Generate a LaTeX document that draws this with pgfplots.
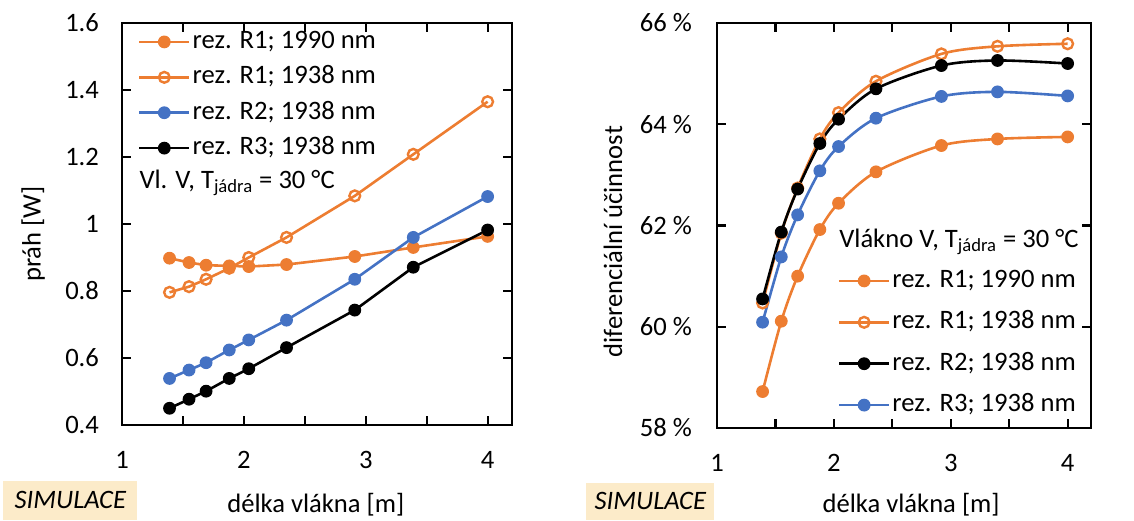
\documentclass[border=0pt]{standalone}
\usepackage{fontspec}
\setmainfont{Carlito}
\usepackage{pgfplots}
\pgfplotsset{compat=1.18}
\definecolor{xlorange}{HTML}{ED7D31}
\definecolor{xlblue}{HTML}{4472C4}
\definecolor{simbg}{HTML}{FCEBC9}
\newcommand{\fs}{\fontsize{13.3}{16}\selectfont}

\pgfplotsset{
  panel/.style={
    scale only axis, xmin=1, xmax=4.2,
    xtick={1,2,3,4}, minor xtick={1.5,2.5,3.5},
    tick align=inside, major tick length=4.5pt, minor tick length=4.5pt,
    every tick/.style={black, line width=1.1pt},
    every minor tick/.style={black, line width=1.1pt},
    axis line style={line width=1.3pt},
    label style={font=\fs},
    ticklabel style={font=\fs},
    /pgf/number format/assume math mode=true,
    xticklabel style={yshift=-9.5pt},
    clip=false,
    legend cell align=left,
    legend style={draw=none, fill=none, font=\fs, inner sep=0pt,
      nodes={inner sep=1pt, text height=9.5pt, text depth=3pt}},
    legend image code/.code={\draw[mark repeat=2,mark phase=2]
      plot coordinates {(0pt,0pt) (12.5pt,0pt) (25pt,0pt)};},
  },
  filled/.style={#1, line width=1.3pt, mark=*, mark size=2.9pt,
    mark options={fill=#1, draw=#1, line width=0.6pt}},
  hollow/.style={#1, line width=1.3pt, mark=o, mark size=2.7pt,
    mark options={fill=white, draw=#1, line width=1.2pt}},
}

\begin{document}
\begin{tikzpicture}
\path[use as bounding box] (0,0) rectangle (567pt,260pt);

% left panel: threshold
\begin{axis}[panel,
  at={(61pt,47.5pt)}, anchor=south west,
  width=195pt, height=201pt,
  ymin=0.4, ymax=1.6, ytick={0.4,0.6,...,1.6},
  yticklabel style={xshift=-8pt, /pgf/number format/fixed},
  ylabel={práh [W]},
  ylabel style={at={(axis description cs:-0.228,0.475)}, anchor=center},
  xlabel={délka vlákna [m]},
  xlabel style={at={(axis description cs:0.497,-0.199)}, anchor=center},
  legend style={at={(axis description cs:0.04,0.99)}, anchor=north west,
    row sep=3.2pt},
]
\addplot[filled=xlorange] coordinates {
  (1.39,0.898) (1.55,0.885) (1.69,0.877) (1.88,0.875) (2.04,0.873)
  (2.35,0.879) (2.91,0.903) (3.39,0.930) (4.00,0.963)};
\addlegendentry{rez. R1; 1990 nm}
\addplot[hollow=xlorange] coordinates {
  (1.39,0.796) (1.55,0.813) (1.69,0.835) (1.88,0.868) (2.04,0.900)
  (2.35,0.960) (2.91,1.084) (3.39,1.208) (4.00,1.365)};
\addlegendentry{rez. R1; 1938 nm}
\addplot[filled=xlblue] coordinates {
  (1.39,0.539) (1.55,0.564) (1.69,0.586) (1.88,0.624) (2.04,0.654)
  (2.35,0.713) (2.91,0.835) (3.39,0.960) (4.00,1.082)};
\addlegendentry{rez. R2; 1938 nm}
\addplot[filled=black] coordinates {
  (1.39,0.450) (1.55,0.477) (1.69,0.501) (1.88,0.539) (2.04,0.568)
  (2.35,0.631) (2.91,0.743) (3.39,0.871) (4.00,0.982)};
\addlegendentry{rez. R3; 1938 nm}
\node[anchor=west, font=\fs, inner sep=0pt] at (axis description cs:0.044,0.602)
  {Vl. V, T\textsubscript{jádra} = 30 °C};
\end{axis}

% right panel: slope efficiency
\begin{axis}[panel,
  at={(358.5pt,46pt)}, anchor=south west,
  width=187pt, height=202.5pt,
  ymin=58, ymax=66, ytick={58,60,62,64,66},
  yticklabels={58 \%,60 \%,62 \%,64 \%,66 \%},
  yticklabel style={xshift=-9pt},
  ylabel={diferenciální účinnost},
  ylabel style={at={(axis description cs:-0.278,0.46)}, anchor=center},
  xlabel={délka vlákna [m]},
  xlabel style={at={(axis description cs:0.519,-0.19)}, anchor=center},
  legend style={at={(axis description cs:0.322,0.40)}, anchor=north west,
    row sep=6.2pt},
]
\addplot[filled=xlorange, smooth] coordinates {
  (1.39,58.72) (1.55,60.11) (1.69,61.00) (1.88,61.92) (2.04,62.44)
  (2.36,63.06) (2.92,63.58) (3.40,63.71) (4.00,63.75)};
\addlegendentry{rez. R1; 1990 nm}
\addplot[hollow=xlorange, smooth] coordinates {
  (1.39,60.47) (1.55,61.85) (1.69,62.74) (1.88,63.71) (2.04,64.23)
  (2.36,64.85) (2.92,65.39) (3.40,65.54) (4.00,65.59)};
\addlegendentry{rez. R1; 1938 nm}
\addplot[filled=black, smooth] coordinates {
  (1.39,60.55) (1.55,61.87) (1.69,62.72) (1.88,63.62) (2.04,64.10)
  (2.36,64.70) (2.92,65.16) (3.40,65.26) (4.00,65.20)};
\addlegendentry{rez. R2; 1938 nm}
\addplot[filled=xlblue, smooth] coordinates {
  (1.39,60.09) (1.55,61.38) (1.69,62.21) (1.88,63.08) (2.04,63.56)
  (2.36,64.12) (2.92,64.55) (3.40,64.64) (4.00,64.56)};
\addlegendentry{rez. R3; 1938 nm}
\node[anchor=west, font=\fs, inner sep=0pt] at (axis description cs:0.326,0.459)
  {Vlákno V, T\textsubscript{jádra} = 30 °C};
\end{axis}

% SIMULACE tags
\node[fill=simbg, minimum width=67pt, minimum height=19.5pt, anchor=south west,
  inner sep=0pt, font=\fs\itshape] at (1.5pt,0pt) {SIMULACE};
\node[fill=simbg, minimum width=64pt, minimum height=18.5pt, anchor=south west,
  inner sep=0pt, font=\fs\itshape] at (293pt,0pt) {SIMULACE};
\end{tikzpicture}
\end{document}
